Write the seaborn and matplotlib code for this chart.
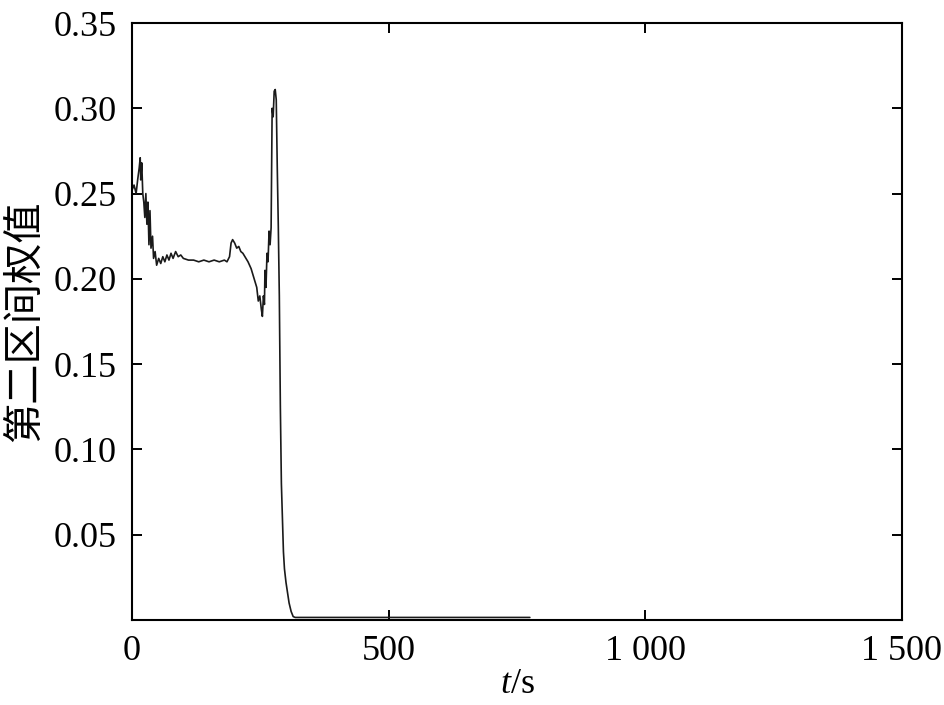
import numpy as np
import pandas as pd
import matplotlib
matplotlib.use("Agg")
import matplotlib.pyplot as plt
import seaborn as sns

# =========================================
# DADOS
# =========================================

tempo = [0, 4, 8, 11, 14, 16, 17, 19, 21, 23, 25, 27, 29, 31, 33, 35, 37,
         40, 42, 45, 48, 52, 56, 60, 64, 68, 72, 76, 80, 85, 90, 95, 100,
         110, 120, 130, 140, 150, 160, 170, 180, 185, 190, 193, 196, 200,
         204, 208, 212, 216, 220, 226, 232, 236, 240, 243, 246, 249, 252,
         254, 256, 258, 259, 261, 263, 265, 267, 269, 271, 272, 273, 275,
         277, 279, 281, 283, 285, 287, 289, 291, 293, 295, 297, 300, 303,
         306, 310, 314, 318, 775]

peso = [0.252, 0.255, 0.250, 0.258, 0.265, 0.271, 0.258, 0.268, 0.250,
        0.245, 0.236, 0.250, 0.232, 0.245, 0.220, 0.240, 0.218, 0.225,
        0.212, 0.216, 0.208, 0.212, 0.209, 0.213, 0.210, 0.214, 0.211,
        0.215, 0.212, 0.216, 0.213, 0.214, 0.212, 0.211, 0.211, 0.210,
        0.211, 0.210, 0.211, 0.210, 0.211, 0.210, 0.213, 0.221, 0.223,
        0.221, 0.218, 0.219, 0.216, 0.215, 0.213, 0.210, 0.206, 0.202,
        0.198, 0.195, 0.187, 0.190, 0.182, 0.178, 0.190, 0.185, 0.205,
        0.195, 0.215, 0.210, 0.228, 0.220, 0.230, 0.265, 0.300, 0.295,
        0.310, 0.311, 0.305, 0.265, 0.231, 0.190, 0.125, 0.080, 0.060,
        0.040, 0.030, 0.022, 0.016, 0.010, 0.005, 0.002, 0.0015, 0.0015]

xticks = [0, 500, 1000, 1500]
xtick_labels = ["0", "500", "1 000", "1 500"]
yticks = [0.05, 0.10, 0.15, 0.20, 0.25, 0.30, 0.35]
ytick_labels = ["0.05", "0.10", "0.15", "0.20", "0.25", "0.30", "0.35"]

df = pd.DataFrame({"t": tempo, "peso": peso})

# =========================================
# ESTILO
# =========================================

sns.set_style("white")
plt.rcParams["font.family"] = ["Liberation Serif", "Noto Sans CJK SC"]
plt.rcParams["mathtext.fontset"] = "custom"
plt.rcParams["mathtext.it"] = "Liberation Serif:italic"
plt.rcParams["mathtext.rm"] = "Liberation Serif"
plt.rcParams["text.color"] = "black"
plt.rcParams["axes.labelcolor"] = "black"
plt.rcParams["xtick.color"] = "black"
plt.rcParams["ytick.color"] = "black"

fig = plt.figure(figsize=(9.45, 7.05), dpi=100)
ax = fig.add_axes([132 / 945, 1 - 620 / 705, 770 / 945, 597 / 705])

# =========================================
# GRÁFICO
# =========================================

sns.lineplot(
    data=df,
    x="t",
    y="peso",
    estimator=None,
    color="#1a1a1a",
    linewidth=1.2,
    ax=ax
)

ax.set_xlim(0, 1500)
ax.set_ylim(0, 0.35)

ax.set_xticks(xticks)
ax.set_xticklabels(xtick_labels)
ax.set_yticks(yticks)
ax.set_yticklabels(ytick_labels)

ax.tick_params(
    direction="in",
    length=7,
    width=1.4,
    labelsize=26,
    pad=11,
    top=True,
    right=True,
    bottom=True,
    left=True
)

for spine in ax.spines.values():
    spine.set_visible(True)
    spine.set_linewidth(1.5)
    spine.set_color("black")

ax.set_xlabel("$t$/s", fontsize=26, labelpad=0)
ax.set_ylabel(
    "第二区间权值",
    fontsize=29,
    family=["Noto Sans CJK SC", "DejaVu Sans"],
    fontweight="light",
    labelpad=6
)

fig.savefig("out.png", dpi=100)
